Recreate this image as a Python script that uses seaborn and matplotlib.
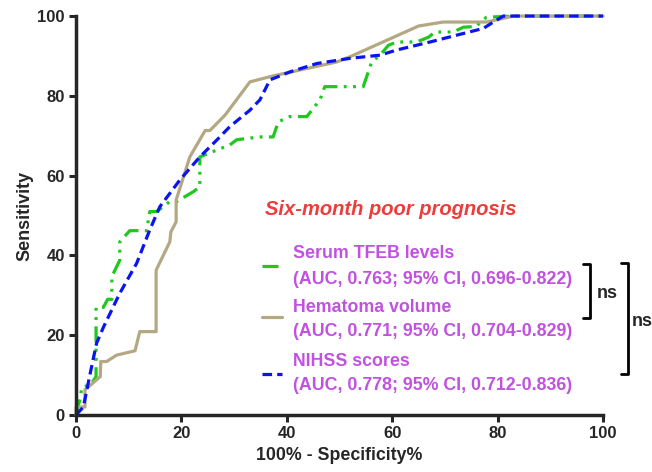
import matplotlib
matplotlib.use("Agg")
import matplotlib.pyplot as plt
import seaborn as sns
import pandas as pd

# ROC curves (x = 100% - specificity%, y = sensitivity)
tfeb_x = [0, 0.8, 1.1, 2.7, 3.8, 3.8, 5.2, 6.0, 6.8, 6.8, 8.3, 8.3, 10.2, 13.4, 14.0, 15.3, 17.8,
          19.1, 22.3, 23.5, 23.5, 26.7, 29.2, 30.5, 34.9, 37.4, 38.4, 40.6, 43.8, 46.3, 47.2,
          54.5, 55.7, 56.1, 57.7, 59.3, 60.9, 64.6, 66.9, 68.1, 71.6, 73.5, 76.0, 76.7, 77.9,
          83.0, 100]
tfeb_y = [0, 4.3, 7.0, 7.5, 9.6, 27.0, 27.0, 29.0, 29.0, 34.7, 38.8, 43.4, 46.2, 46.2, 51.0,
          51.0, 53.5, 53.5, 56.0, 57.2, 64.7, 66.4, 67.7, 69.0, 69.7, 69.7, 73.5, 74.8, 74.8,
          79.0, 82.3, 82.3, 86.9, 88.5, 90.2, 92.7, 93.5, 93.5, 94.7, 96.0, 96.0, 97.2, 97.4,
          98.5, 99.7, 100, 100]

hema_x = [0, 0, 1.7, 1.7, 4.6, 4.7, 5.8, 7.7, 11.2, 12.1, 15.2, 15.2, 17.8, 18.0, 19.0, 19.0,
          20.4, 21.6, 24.5, 25.4, 28.3, 33.0, 37.4, 41.9, 49.5, 52.0, 65.0, 69.7, 77.9, 83.0, 100]
hema_y = [0, 2.0, 2.0, 6.3, 9.6, 13.4, 13.4, 15.0, 16.1, 20.9, 20.9, 36.3, 43.4, 45.9, 48.4,
          53.9, 59.7, 64.7, 71.3, 71.3, 75.2, 83.5, 85.0, 86.3, 88.5, 89.8, 97.5, 98.5, 98.5,
          100, 100]

nihss_x = [0, 1.4, 2.7, 3.9, 5.2, 8.3, 11.5, 14.0, 15.9, 19.7, 23.5, 26.7, 29.2, 33.0, 34.9,
           36.8, 40.6, 45.7, 52.0, 57.7, 60.9, 67.2, 72.2, 77.3, 79.2, 81.1, 100]
nihss_y = [0, 2.0, 10.5, 18.0, 22.0, 30.5, 38.0, 46.4, 52.2, 58.9, 64.7, 68.9, 72.3, 76.4,
           79.0, 84.0, 86.0, 88.1, 89.4, 90.2, 91.5, 93.5, 95.2, 96.9, 98.5, 100, 100]

legend_names = ["Serum TFEB levels", "Hematoma volume", "NIHSS scores"]
legend_auc = ["(AUC, 0.763; 95% CI, 0.696-0.822)",
              "(AUC, 0.771; 95% CI, 0.704-0.829)",
              "(AUC, 0.778; 95% CI, 0.712-0.836)"]
colors = ["#1ec81e", "#b4a882", "#0a14f0"]

sns.set_style("ticks")
plt.rcParams["font.family"] = ["Liberation Sans", "DejaVu Sans"]
plt.rcParams["font.weight"] = "bold"

fig = plt.figure(figsize=(6.52, 4.72), dpi=100)
ax = fig.add_axes([0.1166, 0.1208, 0.8082, 0.8452])

green_dash = (5, 2, 0.9, 2, 0.9, 2)
blue_dash = (3, 1.6)

sns.lineplot(x=tfeb_x, y=tfeb_y, sort=False, estimator=None, color=colors[0], lw=2.3, ax=ax)
ax.lines[-1].set_dashes(green_dash)
sns.lineplot(x=hema_x, y=hema_y, sort=False, estimator=None, color=colors[1], lw=2.3, ax=ax)
sns.lineplot(x=nihss_x, y=nihss_y, sort=False, estimator=None, color=colors[2], lw=2.3, ax=ax)
ax.lines[-1].set_dashes(blue_dash)
for ln in ax.lines:
    ln.set_clip_on(False)

ax.set_xlim(0, 100)
ax.set_ylim(0, 100)
ax.set_xticks(range(0, 101, 20))
ax.set_yticks(range(0, 101, 20))
sns.despine(ax=ax)
for s in ["left", "bottom"]:
    ax.spines[s].set_linewidth(2.5)
ax.tick_params(width=2.2, length=5, labelsize=12, pad=3)
for lab in ax.get_xticklabels() + ax.get_yticklabels():
    lab.set_fontweight("bold")
ax.set_xlabel("100% - Specificity%", fontsize=12.8, fontweight="bold", labelpad=4)
ax.set_ylabel("Sensitivity", fontsize=13, fontweight="bold", labelpad=3)

# title-like annotation
fig.text(265 / 652, 1 - 210 / 472, "Six-month poor prognosis", color="#ee3c3c",
         fontsize=14.5, fontweight="bold", style="italic", va="center", ha="left")

# custom legend
purple = "#c152e0"
rows = [(254, 279, 266), (307, 331, 317), (361, 385, 374)]
for i, (y1, y2, ys) in enumerate(rows):
    fig.text(293 / 652, 1 - y1 / 472, legend_names[i], color=purple, fontsize=12.8,
             fontweight="bold", va="center", ha="left")
    fig.text(293 / 652, 1 - y2 / 472, legend_auc[i], color=purple, fontsize=12.8,
             fontweight="bold", va="center", ha="left")
    ln = plt.Line2D([262 / 652, 282 / 652], [1 - ys / 472, 1 - ys / 472],
                    transform=fig.transFigure, color=colors[i], lw=2.3)
    if i == 0:
        ln.set_dashes(green_dash)
    if i == 2:
        ln.set_dashes(blue_dash)
    fig.add_artist(ln)

# significance brackets
def bracket(x0, x1, ytop, ybot, label, lx, ly):
    fx = lambda p: p / 652
    fy = lambda p: 1 - p / 472
    fig.add_artist(plt.Line2D([fx(x0), fx(x1), fx(x1), fx(x0)],
                              [fy(ytop), fy(ytop), fy(ybot), fy(ybot)],
                              transform=fig.transFigure, color="black", lw=2))
    fig.text(fx(lx), fy(ly), label, fontsize=13, fontweight="bold", va="center", ha="left")

bracket(583, 590, 264, 318, "ns", 597, 293)
bracket(621, 628, 263, 374, "ns", 632, 321)

plt.savefig("out.png", dpi=100)
